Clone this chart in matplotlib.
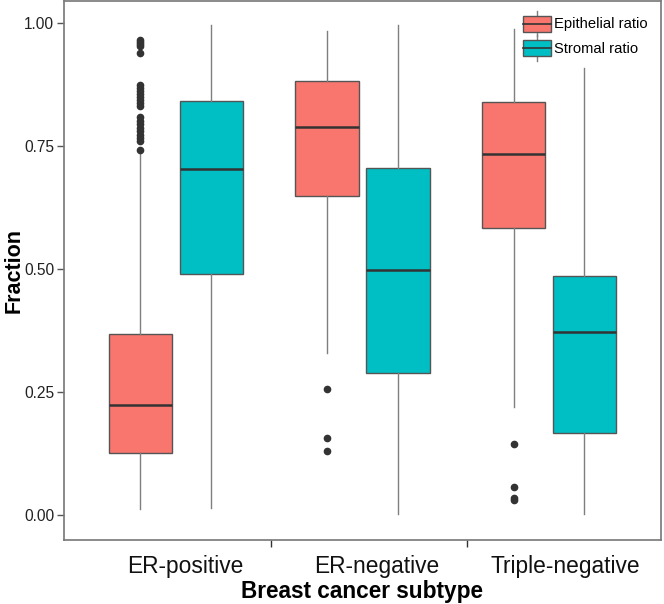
import matplotlib
matplotlib.use("Agg")
import matplotlib.pyplot as plt
from matplotlib.legend_handler import HandlerBase
from matplotlib.patches import Rectangle, Patch
from matplotlib.lines import Line2D

plt.rcParams['font.family'] = ['Liberation Sans', 'DejaVu Sans']

subtypes = ["ER-positive", "ER-negative", "Triple-negative"]
series = ["Epithelial ratio", "Stromal ratio"]
colors = ["#F8766D", "#00BFC4"]

# box stats: [whislo, q1, med, q3, whishi]
epithelial = [
    [0.012, 0.126, 0.225, 0.369, 0.736],
    [0.33, 0.65, 0.79, 0.883, 0.985],
    [0.22, 0.584, 0.734, 0.84, 0.988],
]
stromal = [
    [0.016, 0.491, 0.703, 0.842, 0.996],
    [0.002, 0.29, 0.499, 0.706, 0.996],
    [0.002, 0.168, 0.373, 0.487, 0.91],
]
epithelial_out = [
    [0.966, 0.962, 0.958, 0.953, 0.939, 0.874, 0.868, 0.862, 0.856, 0.85,
     0.844, 0.838, 0.832, 0.809, 0.802, 0.795, 0.788, 0.781, 0.774, 0.767, 0.76, 0.742],
    [0.256, 0.158, 0.131],
    [0.145, 0.057, 0.036, 0.031],
]
stromal_out = [[], [], []]

fig = plt.figure(figsize=(6.64, 6.04), dpi=100)
ax = fig.add_axes([0.0964, 0.106, 0.899, 0.892])

offset = 0.19
width = 0.34
for k, (stats_list, outs) in enumerate([(epithelial, epithelial_out), (stromal, stromal_out)]):
    stats = []
    for s, fl in zip(stats_list, outs):
        stats.append(dict(whislo=s[0], q1=s[1], med=s[2], q3=s[3], whishi=s[4], fliers=fl))
    pos = [i + 1 + (offset if k else -offset) for i in range(len(stats))]
    ax.bxp(stats, positions=pos, widths=width, patch_artist=True, showcaps=False,
           boxprops=dict(facecolor=colors[k], edgecolor="#555555", linewidth=1.0),
           medianprops=dict(color="#333333", linewidth=1.8),
           whiskerprops=dict(color="#7f7f7f", linewidth=1.0),
           flierprops=dict(marker="o", markersize=4.5, markerfacecolor="#333333",
                           markeredgecolor="#333333"))

ax.set_xlim(0.4, 3.6)
ax.set_ylim(-0.05, 1.045)
ax.set_yticks([0, 0.25, 0.5, 0.75, 1.0])
ax.set_yticklabels(["0.00", "0.25", "0.50", "0.75", "1.00"])
ax.set_xticks([1.05, 2.075, 3.09])
ax.set_xticklabels(subtypes)
ax.set_xticks([1.507, 2.558], minor=True)
ax.tick_params(axis="x", which="major", length=0, labelsize=16.4, pad=11, colors="#111111")
ax.tick_params(axis="x", which="minor", length=5, width=1, color="#333333")
ax.tick_params(axis="y", length=5, width=1, color="#555555", labelsize=11.2, labelcolor="#222222", pad=2)
for sp in ax.spines.values():
    sp.set_color("#777777")
    sp.set_linewidth(1.2)

ax.set_xlabel("Breast cancer subtype", fontsize=16.3, fontweight="bold", labelpad=1)
ax.set_ylabel("Fraction", fontsize=15.5, fontweight="bold")
ax.yaxis.set_label_coords(-0.066, 0.5)


class BoxHandler(HandlerBase):
    def create_artists(self, legend, orig_handle, xdescent, ydescent, width, height, fontsize, trans):
        cx = width / 2 - xdescent
        cy = height / 2 - ydescent
        vline = Line2D([cx, cx], [cy - height * 0.8, cy + height * 0.8], color="#7f7f7f", lw=1, transform=trans)
        rect = Rectangle((-xdescent, cy - height * 0.5), width, height, facecolor=orig_handle.get_facecolor(),
                         edgecolor="#555555", lw=1, transform=trans)
        hline = Line2D([-xdescent, width - xdescent], [cy, cy], color="#333333", lw=1.2, transform=trans)
        return [vline, rect, hline]


handles = [Patch(facecolor=c) for c in colors]
ax.legend(handles, series, handler_map={Patch: BoxHandler()}, loc="upper right",
          bbox_to_anchor=(1.0, 0.998), frameon=False, fontsize=10.6, handlelength=1.9,
          handleheight=1.3, handletextpad=0.2, labelspacing=0.55)

fig.savefig("out.png", dpi=100)
